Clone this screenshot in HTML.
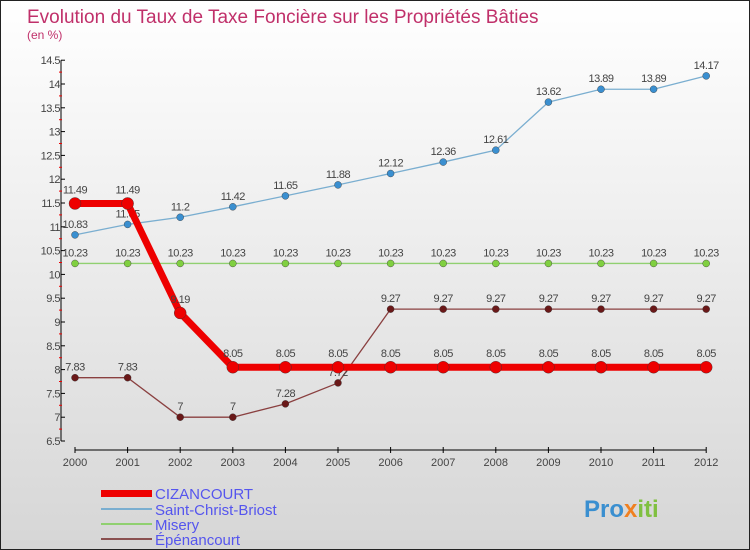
<!DOCTYPE html>
<html><head><meta charset="utf-8"><style>
body{margin:0}
#c{width:748px;height:548px;border:1px solid #222;background:linear-gradient(#ffffff,#d6d6d6);position:relative;font-family:"Liberation Sans",sans-serif}
</style></head><body>
<div id="c">
<svg id="s" width="748" height="548" style="position:absolute;left:0;top:0">
<text x="26" y="22" font-size="19" fill="#c0306a">Evolution du Taux de Taxe Foncière sur les Propriétés Bâties</text>
<text x="26" y="38" font-size="12" fill="#c0306a">(en %)</text>
<g id="ax"></g><g id="series"></g>
<g>
<rect x="100" y="489" width="51" height="7" fill="#ee0000"/>
<text x="154" y="498" font-size="15" fill="#5555ee">CIZANCOURT</text>
<rect x="100" y="507" width="51" height="2" fill="#7aaed0"/>
<text x="154" y="514" font-size="15" fill="#5555ee">Saint-Christ-Briost</text>
<rect x="100" y="522" width="51" height="2" fill="#90d070"/>
<text x="154" y="529" font-size="15" fill="#5555ee">Misery</text>
<rect x="100" y="537" width="51" height="2" fill="#8a5050"/>
<text x="154" y="544" font-size="15" fill="#5555ee">Épénancourt</text>
</g>
<text x="583" y="516" font-size="24" font-weight="bold" fill="#3a8fd0">Pro<tspan fill="#f08020">x</tspan><tspan fill="#80c040">iti</tspan></text>
</svg>
</div>
<script>
const years=[2000,2001,2002,2003,2004,2005,2006,2007,2008,2009,2010,2011,2012];
const cizancourt=[11.49,11.49,9.19,8.05,8.05,8.05,8.05,8.05,8.05,8.05,8.05,8.05,8.05];
const saintChrist=[10.83,11.05,11.2,11.42,11.65,11.88,12.12,12.36,12.61,13.62,13.89,13.89,14.17];
const misery=[10.23,10.23,10.23,10.23,10.23,10.23,10.23,10.23,10.23,10.23,10.23,10.23,10.23];
const epenancourt=[7.83,7.83,7,7,7.28,7.72,9.27,9.27,9.27,9.27,9.27,9.27,9.27];
const yTicks=[6.5,7,7.5,8,8.5,9,9.5,10,10.5,11,11.5,12,12.5,13,13.5,14,14.5];
const NS='http://www.w3.org/2000/svg';
const X=i=>74+i*52.6, Y=v=>440-(v-6.5)*47.6;
function mk(p,t,a){const e=document.createElementNS(NS,t);for(const k in a)e.setAttribute(k,a[k]);p.appendChild(e);return e;}
const ax=document.getElementById('ax');
let e=mk(ax,'line',{x1:60,y1:Y(14.5),x2:60,y2:Y(6.5),stroke:'#000'});


e=mk(ax,'line',{x1:X(0),y1:449,x2:X(12),y2:449,stroke:'#000'});


yTicks.forEach((v,i)=>{
 mk(ax,'line',{x1:60,y1:Y(v),x2:64,y2:Y(v),stroke:'#000'});
 if(i<yTicks.length-1)mk(ax,'line',{x1:58,y1:Y(v+0.25),x2:61,y2:Y(v+0.25),stroke:'#e00'});
 const t=mk(ax,'text',{x:59,y:Y(v)+4,'font-size':11,'text-anchor':'end',fill:'#444','letter-spacing':'-0.5'});
 t.textContent=v;
 
 
});
years.forEach((y,i)=>{
 mk(ax,'line',{x1:X(i),y1:446,x2:X(i),y2:452,stroke:'#000'});
 const t=mk(ax,'text',{x:X(i),y:465,'font-size':11,'text-anchor':'middle',fill:'#444'});
 t.textContent=y;
 
 
});
const sg=document.getElementById('series');
function draw(arr,name,col,w,r,dot,lblOff){
 const g=mk(sg,'g',{});
 
 
 mk(g,'polyline',{points:arr.map((v,i)=>X(i)+','+Y(v)).join(' '),fill:'none',stroke:col,'stroke-width':w,'stroke-linejoin':'round'});
 arr.forEach((v,i)=>{
  const c=mk(g,'circle',{cx:X(i),cy:Y(v),r:r,fill:dot,stroke:'#333','stroke-width':0.4});
  
  
  const t=mk(g,'text',{x:X(i),y:Y(v)-lblOff,'font-size':11,'text-anchor':'middle',fill:'#444','letter-spacing':'-0.5'});
  t.textContent=v;
  
  
 });
}
draw(misery,'misery','#90d070',1.3,3.5,'#80d040',7);
draw(saintChrist,'saint-christ-briost','#7aaed0',1.3,3.5,'#3a8fd0',7);
draw(epenancourt,'epenancourt','#8a4040',1.3,3.5,'#6a1818',7);
draw(cizancourt,'cizancourt','#ee0000',7,6,'#ee0000',10);
</script>
</body></html>
